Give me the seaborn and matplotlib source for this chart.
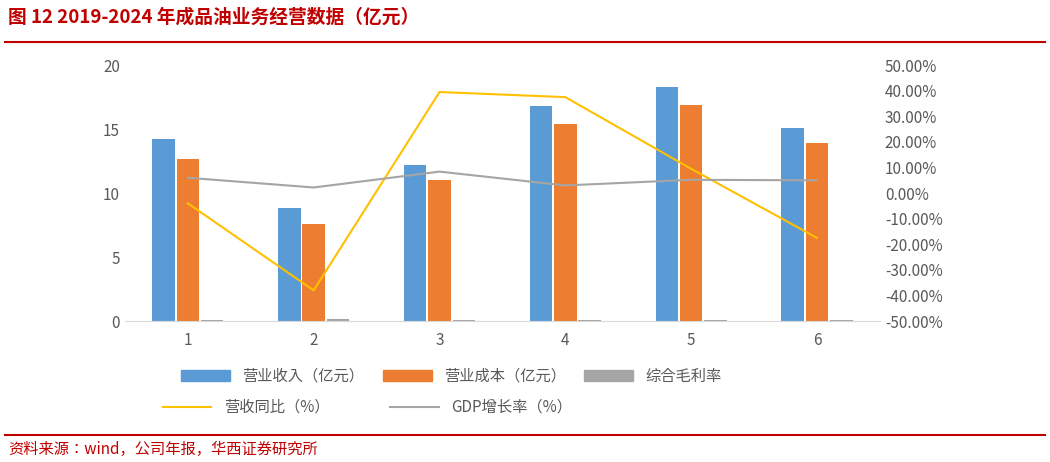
import pandas as pd
import numpy as np
import matplotlib.pyplot as plt
import seaborn as sns
from matplotlib import font_manager
from matplotlib.ticker import FuncFormatter
from matplotlib.patches import Patch
from matplotlib.lines import Line2D

# pick whatever CJK font is actually registered
cjk = [f.name for f in font_manager.fontManager.ttflist if 'CJK' in f.name]
cjk_name = 'Noto Sans CJK SC' if 'Noto Sans CJK SC' in cjk else (cjk[0] if cjk else 'DejaVu Sans')
plt.rcParams['font.family'] = [cjk_name, 'DejaVu Sans']
plt.rcParams['axes.unicode_minus'] = False

# data
periods = ['1', '2', '3', '4', '5', '6']
revenue = [14.2, 8.8, 12.2, 16.8, 18.3, 15.1]
cost = [12.7, 7.6, 11.0, 15.4, 16.9, 13.9]
margin = [0.12, 0.16, 0.10, 0.09, 0.08, 0.08]
rev_yoy = [-4.0, -38.0, 39.5, 37.5, 9.5, -17.5]
gdp_growth = [6.0, 2.2, 8.4, 3.0, 5.2, 5.0]
series_names = ['营业收入（亿元）', '营业成本（亿元）', '综合毛利率']
bar_colors = ['#5B9BD5', '#ED7D31', '#A5A5A5']

df = pd.DataFrame({
    'period': periods * 3,
    'value': revenue + cost + margin,
    'series': np.repeat(series_names, len(periods)),
})

fig = plt.figure(figsize=(10.5, 4.62), dpi=100)
ax = fig.add_axes([0.119, 0.305, 0.719, 0.554])
sns.barplot(data=df, x='period', y='value', hue='series', palette=bar_colors,
            width=0.58, gap=0.08, ax=ax, legend=False, saturation=1)
ax.set_ylim(0, 20)
ax.set_yticks([0, 5, 10, 15, 20])
ax.set_xlabel('')
ax.set_ylabel('')
for s in ['top', 'right', 'left']:
    ax.spines[s].set_visible(False)
ax.spines['bottom'].set_color('#D9D9D9')
ax.tick_params(length=0, colors='#595959', labelsize=11)
ax.tick_params(axis='x', pad=8)

ax2 = ax.twinx()
x = np.arange(len(periods))
ax2.plot(x, rev_yoy, color='#FFC000', lw=1.5)
ax2.plot(x, gdp_growth, color='#A5A5A5', lw=1.5)
ax2.set_ylim(-50, 50)
ax2.set_yticks(range(-50, 51, 10))
ax2.yaxis.set_major_formatter(FuncFormatter(lambda v, p: f'{v:.2f}%'))
for s in ax2.spines.values():
    s.set_visible(False)
ax2.tick_params(length=0, colors='#595959', labelsize=11)
ax.set_xlim(-0.5, 5.5)

# legends
h1 = [Patch(color=c) for c in bar_colors]
fig.legend(h1, series_names, loc='center', bbox_to_anchor=(0.43, 0.185), ncol=3,
           frameon=False, fontsize=11, handlelength=3.2, handleheight=0.7,
           columnspacing=1.2, labelcolor='#595959')
h2 = [Line2D([], [], color='#FFC000', lw=1.5), Line2D([], [], color='#A5A5A5', lw=1.5)]
fig.legend(h2, ['营收同比（%）', 'GDP增长率（%）'], loc='center', bbox_to_anchor=(0.35, 0.118),
           ncol=2, frameon=False, fontsize=11, handlelength=3.2, columnspacing=4,
           labelcolor='#595959')

# title / source
fig.text(0.008, 0.963, '图 12 2019-2024 年成品油业务经营数据（亿元）', fontsize=13.5,
         color='#C00000', fontweight='bold', va='center')
fig.add_artist(Line2D([0.005, 0.995], [0.91, 0.91], color='#C00000', lw=1.5))
fig.add_artist(Line2D([0.005, 0.995], [0.058, 0.058], color='#C00000', lw=1.5))
fig.text(0.008, 0.028, '资料来源：wind，公司年报，华西证券研究所', fontsize=11,
         color='#C00000', va='center')

fig.savefig('out.png', dpi=100, facecolor='white')
